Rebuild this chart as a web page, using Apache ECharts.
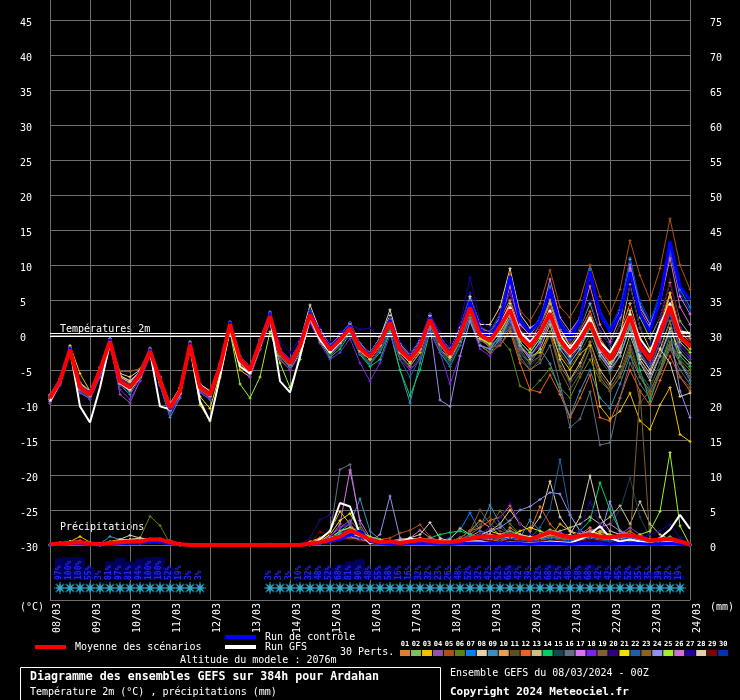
<!DOCTYPE html>
<html><head><meta charset="utf-8">
<script src="https://cdn.jsdelivr.net/npm/echarts@6/dist/echarts.min.js"></script>
<style>html,body{margin:0;padding:0;background:#000;}#c{width:740px;height:700px;}</style>
</head><body><div id="c"></div>
<script>
const dates = ['08/03','09/03','10/03','11/03','12/03','13/03','14/03','15/03','16/03','17/03','18/03','19/03','20/03','21/03','22/03','23/03','24/03'];
const memberColors = ['#e07f30','#80c060','#f0c000','#9050b0','#b05010','#608010','#0080ff','#e8d0a8','#3890c0','#e8a050','#605020','#f06020','#d0c080','#00d060','#204050','#607080','#e070f0','#8020f0','#806030','#300080','#f0e000','#2060a0','#906020','#9090f0','#a0f030','#d070d0','#2000a0','#e0d0b0','#800000','#0030c0'];
const memberLabels = ['01','02','03','04','05','06','07','08','09','10','11','12','13','14','15','16','17','18','19','20','21','22','23','24','25','26','27','28','29','30'];

// 2m temperature (°C), one value every 6 h from 08/03 00Z to 24/03 00Z
const tMean = [-9,-6.6,-2.1,-7.5,-8.5,-5,-0.9,-6.6,-7.5,-5.7,-2.3,-6.4,-10.4,-8,-1.4,-7.5,-8.5,-4.5,1.5,-3.5,-5,-1.1,2.7,-2.5,-4,-1.6,2.9,0,-2.1,-0.7,1,-1.9,-3.1,-1.1,1.8,-2.1,-3.5,-1.6,2.2,-0.9,-2.8,0,3.9,0,-0.8,1.2,3.6,-0.2,-1.6,0.3,3.1,-0.7,-2.6,-0.7,1.7,-1.6,-3.5,-1.1,2.7,-1.6,-3.5,0.3,4.1,-0.2,-1.6];
const tCtrl = [-8.9,-6.4,-1.9,-7.4,-8.3,-4.9,-0.6,-6.5,-7.4,-5.5,-2.1,-6.3,-10.6,-8,-1.2,-7.4,-8.4,-4.3,1.8,-3.3,-4.8,-0.9,3,-2.3,-3.8,-1.3,3.2,0.2,-1.8,-0.4,1.3,-1.7,-2.9,-0.9,2.1,-1.9,-3.3,-1.4,2.5,-0.6,-2.6,0.3,4.8,0.8,-0.3,2,8.4,2,0.5,2,6.5,1.5,-0.5,2,9.1,3,0.5,3,9,3,0.5,5,13.4,7,5];
const tGfs = [-9.5,-6.8,-2,-10.2,-12.5,-7.5,-1.2,-6.8,-7.8,-6,-2.4,-10.2,-10.6,-8.4,-1.6,-9.5,-12.3,-6,1,-4.5,-5.5,-1.5,2.5,-6.6,-8.2,-3,2.5,-0.7,-2.5,-1,0.8,-2,-3.2,-1.2,1.8,-2.2,-3.6,-1.6,2,-1,-3,0,3.5,0,-0.8,1.5,4,0.5,-1,0.5,3.5,0,-2,0,2.5,-1,-2.5,0,3,-0.5,-2.5,1.5,4.6,0.5,0.3];
const t01 = [-8.5,-6.2,-1.8,-7,-8,-4.6,-0.5,-6,-6.8,-5.2,-2,-6,-10,-7.6,-1,-7,-8,-4,1.8,-3,-4.5,-0.6,3.2,-2,-3.5,-1,3.4,0.5,-1.5,0,1.6,-1.4,-2.6,-0.5,2.4,-1.5,-3,-1,2.8,-0.3,-2,0.7,4.6,0.8,0,2.2,5,1,-0.5,1.5,4.6,0.5,-1.5,0.6,3.4,-0.5,-2.5,0.3,4.5,-0.5,-2.5,1.8,6,1,-0.5];
const t02 = [-9.3,-6.8,-2.4,-7.8,-8.8,-5.4,-1.2,-7,-7.9,-6,-2.6,-6.8,-10.8,-8.3,-1.6,-7.8,-8.8,-4.8,1.2,-3.8,-5.3,-1.4,2.4,-2.8,-4.3,-2,2.5,-0.4,-2.5,-1,0.8,-2.3,-3.5,-1.5,1.5,-2.5,-4,-2,2,-1.2,-3,-0.3,3.5,-0.5,-1,1.5,4.5,0.5,-1,1.5,5,0.8,-1,1,4.5,0.5,-1.5,1.5,10.8,2.5,-0.5,2.5,7.5,2,0];
const t03 = [-9.5,-6.5,-1.5,-5.5,-8,-5.5,-1.5,-7,-8,-6,-2.8,-7,-11,-8.5,-2,-10,-12.3,-6,0.5,-5,-6,-2,2,-3.5,-5,-2.5,2,-1,-3,-1.5,0.5,-2.5,-4,-2,1,-3,-4.5,-2.5,1.5,-2,-3.5,-1,3,-1.5,-2.5,-0.5,2.5,-2,-3,-2.5,0.5,-3,-5,-2.7,-1.5,-10.2,-12,-10.9,-8.3,-12.3,-13.5,-10,-7.5,-14.2,-15.2];
const t04 = [-9.8,-7,-2.2,-8,-9.2,-6,-1,-8.5,-9.7,-6.5,-2.5,-7,-11,-8.5,-1.5,-8,-9,-5,1.2,-4,-5.5,-1.5,2.5,-3,-4.5,-2,3,-0.5,-2.8,-1.2,0.8,-2.5,-4,-1.8,1.5,-2.8,-4.5,-2.2,2,-1.5,-3.5,-0.5,3.5,-0.8,-1.5,0.5,3,-1,-2.5,0,3,-1,-3.5,-1.5,2,-2.5,-5,-2,2.5,-2.5,-5,-1,3.5,-2.5,-4];
const t05 = [-8.8,-6.3,-1.8,-7.2,-8.2,-4.8,-0.6,-5.2,-5.2,-4.8,-2,-6.2,-10,-7.8,-1.2,-7.2,-8.2,-4.2,1.8,-3.2,-4.7,-0.8,3,-2.2,-3.6,-1.2,3.3,0.3,-1.8,-0.3,1.4,-1.5,-2.7,-0.7,2.2,-1.7,-3,-1.1,2.7,-0.5,-2.2,0.5,4.5,0.8,0.5,3,8.9,3.5,2,4.5,9.3,4,2.5,5,10,5.5,3,6.5,13.5,8.5,5,9.5,16.6,10,6.5];
const t06 = [-9.2,-6.8,-2,-7.6,-8.6,-5.2,-1,-6.8,-7.8,-5.8,-2.2,-6.5,-10.6,-8.2,-1.5,-7.8,-8.8,-4.6,1.4,-3.6,-5.2,-1.2,2.6,-2.7,-4.2,-1.8,2.7,-0.2,-2.3,-0.9,0.8,-2,-3.3,-1.3,1.6,-2.3,-3.8,-1.8,2,-1.1,-3,-0.2,3.4,-0.5,-1.5,-0.5,-2.1,-7.3,-8,-6.5,-4.8,-7.5,-9,-6,-3.5,-6.5,-8,-6,-2.5,-5.5,-7.5,-4,-1,-3.5,-5];
const t07 = [-8.7,-6.4,-1.9,-7.3,-8.3,-4.8,-0.7,-6.3,-7.2,-5.5,-2.1,-6.2,-10.2,-7.8,-1.2,-7.3,-8.3,-4.3,1.7,-3.3,-4.8,-0.9,2.9,-2.3,-3.8,-1.4,3.1,0.2,-1.9,-0.5,1.2,-1.7,-2.9,-0.9,2,-1.9,-3.3,-1.4,2.4,-0.7,-2.6,0.3,4.5,0.5,0,2.5,8,2,0.5,2.5,7,2,0,2.5,9.5,3,0.5,3.5,11,4.5,1.5,5.5,12.5,6.5,4];
const t08 = [-8.6,-6.2,-2.3,-6.8,-8,-5,-1.3,-5.5,-6,-5,-2.4,-6,-9.8,-7.5,-1.6,-7,-8,-4.4,1.2,-3.5,-4.6,-0.8,2.3,-2.6,-4,-1.5,3.5,0.8,-1.5,-0.2,1.8,-1.2,-2.6,-0.4,2.8,-1.3,-2.8,-0.8,3,-0.2,-2.2,1,5.5,1.5,1.5,4,9.5,3,1,2,6,1,-1.5,-1,3,-2,-4,-2.5,3,-3,-5,-2,2,-4,-6];
const t09 = [-9.5,-7,-2.3,-8.3,-9,-5.5,-1.2,-7.2,-8.5,-6.2,-2.6,-7.2,-11.8,-9,-1.8,-8.2,-9.2,-5,1,-4,-5.6,-1.6,2.2,-3,-4.6,-2.2,2.3,-0.6,-3,-1.5,0.3,-2.8,-4.2,-2.5,0.5,-5,-9.7,-4,1,-2,-4,-1,2.5,-1.5,-2,-0.8,1.5,-2.5,-4,-2,-4.1,-8,-11.6,-8,-5,-9,-10.5,-7,-3,-6,-8,-5,-1.5,-4,-6.5];
const t10 = [-8.9,-6.5,-2,-7.4,-8.4,-4.9,-0.8,-5.8,-6.5,-5.3,-2.2,-6.3,-10.3,-7.9,-1.3,-7.4,-8.4,-4.4,1.6,-3.4,-4.9,-1,2.8,-2.4,-3.9,-1.5,3,0.1,-2,-0.6,1.1,-1.8,-3,-1,1.9,-2,-3.4,-1.5,2.3,-0.8,-2.7,0.1,4,0.1,-0.7,1.3,4,0,-1.2,0.8,4.5,0,-2,0,3,-1,-3,-0.5,4.5,-1,-3,1,5.5,0.5,-1];
const t11 = [-9.1,-6.7,-2.2,-7.6,-8.6,-5.1,-1,-6.7,-7.6,-5.8,-2.4,-6.5,-10.5,-8.1,-1.5,-7.6,-8.6,-4.6,1.4,-3.6,-5.1,-1.2,2.6,-2.6,-4.1,-1.7,2.8,-0.1,-2.2,-0.8,0.9,-2,-3.2,-1.2,1.7,-2.2,-3.6,-1.7,2.1,-1,-2.9,-0.1,3.8,-0.1,-1,0.5,2.5,-1.5,-3,-1,1.5,-2.5,-4.5,-2.5,0,-3.5,-5.5,-3,1,-3.5,-6,-2.5,2,-3,-4.5];
const t12 = [-9.3,-6.9,-2.4,-7.9,-8.9,-5.3,-1.2,-6.9,-7.9,-6,-2.6,-6.8,-10.8,-8.4,-1.7,-7.9,-8.9,-4.9,1.1,-3.9,-5.4,-1.5,2.3,-2.9,-4.4,-2,2.5,-0.4,-2.5,-1.1,0.6,-2.3,-3.5,-1.5,1.4,-2.5,-3.9,-2,1.8,-1.3,-3.2,-0.4,3.5,-0.5,-1.8,-1.5,0.5,-4,-7.8,-8.2,-5.7,-8.5,-11.8,-9,-5.7,-11.8,-12.3,-9,-5,-8,-10,-6.5,-3,-6,-8];
const t13 = [-8.8,-6.4,-2,-7.2,-8.2,-4.7,-0.8,-6,-6.8,-5.4,-2.1,-6.1,-10.1,-7.7,-1.2,-7.2,-8.2,-4.2,1.7,-3.3,-4.8,-0.9,2.9,-2.3,-3.8,-1.4,3.1,0.2,-1.9,-0.5,1.2,-1.7,-2.9,-0.9,2,-1.9,-3.3,-1.4,2.4,-0.7,-2.6,0.2,4.1,0.2,-0.6,0.5,3,-1.5,-3.5,-2,1.5,-3.5,-6.4,-4,-1,-5,-7,-4.5,0,-4,-6.5,-3,1,-2.5,-4];
const t14 = [-9.1,-6.5,-2.3,-7.6,-8.4,-5.1,-1.1,-6.5,-7.4,-5.8,-2.4,-6.5,-10.5,-7.9,-1.6,-7.6,-8.6,-4.4,1.3,-3.6,-5.1,-1.3,2.5,-2.7,-4.3,-2,2.4,-0.8,-3.2,-2,0.2,-2.8,-4.5,-3.5,0.5,-5,-8.7,-5,0.5,-2.5,-4.5,-1.5,2.5,-1.5,-2.5,-0.5,2,-1.5,-3,-1,2,-2,-4,-2,1,-3,-5,-3,1.5,-5,-9.5,-5,0,-3,-4.5];
const t15 = [-9.4,-7,-2.5,-8,-8.9,-5.4,-1.4,-7.2,-8.2,-6.2,-2.8,-6.9,-11,-8.6,-1.8,-8,-9,-5,1,-4,-5.5,-1.7,2,-3.2,-4.7,-2.3,2.1,-0.8,-2.9,-1.5,0.2,-2.7,-3.9,-2,1,-3,-5,-3,1.2,-2,-4,-1.2,2.8,-1.2,-2.2,-1,1.5,-2.5,-4.5,-3,0,-4,-7,-5,-2,-6,-8,-5,-1,-5.5,-7.5,-4,0,-3.5,-6];
const t16 = [-9.2,-6.8,-2.3,-7.8,-8.8,-5.3,-1.1,-6.8,-7.8,-5.9,-2.5,-6.7,-10.7,-8.3,-1.6,-7.7,-8.7,-4.7,1.3,-3.7,-5.3,-1.3,2.5,-2.8,-4.3,-1.9,2.6,-0.3,-2.4,-1,0.7,-2.2,-3.4,-1.4,1.5,-2.4,-3.8,-1.9,1.9,-1.2,-3.1,-0.3,3.5,-0.5,-1.5,-0.5,1,-3,-5,-4,-1.5,-7,-13.2,-12,-8.1,-15.7,-15.4,-9,-4,-7,-9,-5.5,-2,-5,-7];
const t17 = [-8.9,-6.5,-2,-7.3,-8.3,-4.9,-0.8,-6.4,-7.3,-5.5,-2.1,-6.2,-10.2,-7.8,-1.2,-7.3,-8.3,-4.3,1.7,-3.3,-4.8,-0.8,3,-2.2,-3.7,-1.3,3.2,0.3,-1.8,-0.4,1.3,-1.6,-2.8,-0.8,2.1,-1.8,-3.2,-1.3,2.5,-0.6,-2.5,0.4,4.4,0.6,0,2,7,1.5,0,2,8,2.5,0.5,2.5,8.5,3,0.5,3.5,10,4,1.5,5,12,5.5,3];
const t18 = [-9.6,-7.2,-2.6,-8.2,-9.2,-5.8,-1.5,-7.8,-9.2,-6.6,-3,-7.2,-11.2,-8.8,-2,-8.2,-9.2,-5.2,0.8,-4.2,-6,-2,1.8,-3.5,-5,-2.8,1.8,-1.2,-3.5,-2.5,-0.5,-4,-6.6,-4,0,-3.5,-5,-3.5,0.5,-2.5,-7,-3,2,-2,-3,-1,2,-2,-3,-1.5,2,-1.5,-3.5,-1.5,2,-2,-4.5,-2,2.5,-2,-4,-0.5,3,-1.5,-3];
const t19 = [-8.7,-6.3,-1.9,-7.2,-8.2,-4.8,-0.6,-6.2,-7,-5.4,-2,-6.1,-10.1,-7.7,-1.1,-7.2,-8.2,-4.2,1.8,-3.2,-4.7,-0.8,3,-2.2,-3.7,-1.3,3.2,0.3,-1.8,-0.4,1.3,-1.6,-2.8,-0.8,2.1,-1.8,-3.2,-1.3,2.5,-0.6,-2.5,0.3,4.2,0.3,-0.5,0.5,2.5,-2,-4,-3,0,-5,-7.8,-5.5,-2,-6,-8,-6,-2,-9.7,-8,-5,-1,-4,-5.5];
const t20 = [-9,-6.6,-2.2,-7.4,-8.4,-5,-1,-6.5,-7.4,-5.6,-2.3,-6.4,-10.4,-8,-1.4,-7.4,-8.4,-4.5,1.5,-3.5,-5,-1.1,2.6,-2.5,-4,-1.7,2.9,0,-2.2,-0.8,1,-2,-3.2,-1.2,2,-2.2,-3.6,-1.7,2.2,-1,-2.9,0,4.2,0.2,-0.6,1.5,4.5,0.5,-1,1,4,0,-2,0,2.5,-1,-3,0,4,-1,-2.5,1,5,-1,-3.5];
const t21 = [-9.2,-6.6,-1.6,-7.7,-8.6,-5.2,-1.3,-6.9,-7.8,-5.9,-2.6,-6.7,-10.8,-8.3,-1.9,-8.8,-10.5,-5.5,0.8,-4,-5.5,-1.5,2.3,-3,-4.5,-2,2.7,-0.3,-2.5,-1.2,0.7,-2.3,-3.5,-1.5,1.6,-2.5,-4,-2,2,-1.3,-3.2,-0.3,3.6,-0.5,-1.3,1,3.8,-0.5,-2,0,3.5,-1,-2.5,-0.5,2.5,-1.5,-3,0,7.2,1,-2,0.5,6,-0.5,-2];
const t22 = [-8.9,-6.5,-2.1,-7.5,-8.6,-5,-0.9,-6.8,-7.8,-5.9,-2.4,-6.6,-11,-8.2,-1.5,-7.6,-8.6,-4.6,1.4,-3.6,-5.1,-1.2,2.4,-2.9,-4.5,-2.1,2.3,-0.7,-2.8,-1.4,0.3,-2.7,-4.2,-2.2,0.9,-3.5,-6,-3.2,1.3,-2,-4.5,-1.5,2.8,-1.5,-2,0,2.5,-1,-2.5,-0.5,2.5,-1.5,-3.5,-1.5,1.5,-2.5,-4.5,-2,2,-2.5,-4.5,-1,3,-2,-3.5];
const t23 = [-9.1,-6.7,-2.1,-7.6,-8.6,-5.1,-0.9,-6.6,-7.6,-5.8,-2.3,-6.5,-10.5,-8.1,-1.4,-7.6,-8.6,-4.6,1.4,-3.6,-5.1,-1.2,2.6,-2.6,-4.1,-1.7,2.8,-0.1,-2.2,-0.8,0.9,-2,-3.2,-1.2,1.7,-2.2,-3.6,-1.7,2.1,-1,-2.9,-0.4,3,-1.5,-2.5,-1.5,1,-3.5,-5,-3.5,0.5,-4.5,-6.5,-4.5,-1,-5.5,-7.5,-5.5,-1.5,-6,-8.5,-5.5,-1.5,-6,-7.5];
const t24 = [-9,-6.5,-2.1,-7.7,-8.7,-5.2,-1.1,-7,-8,-6,-2.5,-6.7,-10.8,-8.3,-1.7,-7.8,-8.8,-4.8,1.2,-3.8,-5.3,-1.4,2.4,-2.7,-4.2,-1.9,2.6,-0.3,-2.4,-1,0.7,-2.2,-3.4,-1.4,1.5,-2.4,-3.8,-1.9,1.2,-9.3,-10.2,-3,2,-1.5,-2,0,2.5,-1.5,-3,-1,2,-2,-4,-2,1.5,-3,-5,-3,1,-4,-6,-3,0.5,-8,-11.8];
const t25 = [-8.8,-6.4,-2,-7.3,-8.3,-4.9,-0.8,-6.4,-7.3,-5.6,-2.2,-6.3,-10.3,-7.9,-1.3,-7.4,-8.4,-4.6,0.5,-7,-9,-6,0.5,-4,-7.5,-3.5,2.4,-0.4,-2.5,-1.1,0.6,-2.2,-3.4,-1.4,1.5,-2.4,-3.8,-1.9,1.9,-1.2,-3.1,-0.3,3.5,-0.5,-1.2,0.5,3,-1,-2.5,-0.5,2.5,-1.5,-3,-1,2,-2,-4,-1.5,3.5,-1.5,-3.5,0,4,-1,-2.5];
const t26 = [-8.9,-6.4,-2,-7.4,-8.4,-4.9,-0.8,-6.5,-7.4,-5.6,-2.2,-6.3,-10.3,-7.9,-1.3,-7.4,-8.4,-4.4,1.6,-3.4,-4.9,-0.9,2.9,-2.3,-3.8,-1.4,3.1,0.2,-1.9,-0.5,1.2,-1.7,-2.9,-0.9,2,-1.9,-3.3,-1.4,2.4,-0.7,-2.6,0.5,4.8,1,0.5,2.5,6,1.5,0,2,6.5,1.5,-0.5,2,7,1.5,-1,2.5,9.5,3.5,1,4.5,11,4,1.5];
const t27 = [-8.8,-6.3,-1.9,-7.3,-8.3,-4.8,-0.7,-6.4,-7.3,-5.5,-2.1,-6.2,-10.2,-7.8,-1.2,-7.3,-8.3,-4.3,1.8,-3.2,-4.7,-0.7,3.2,-1,-2.5,-0.5,3.5,1,-1,0.5,1.5,0.8,1,-0.5,2.5,-1,-2.5,-0.5,3,0.5,-1.5,1.5,8.2,2,1,2,6,1,-0.5,1.5,5.5,1,-1,1,5,0.5,-1.5,1.5,7,1,-1.5,2.5,8,1.5,-1];
const t28 = [-8.7,-6.2,-1.8,-7.1,-8.1,-4.6,-0.5,-5.8,-6.6,-5.2,-1.9,-6,-10,-7.6,-1,-7.1,-8.1,-4.1,1.9,-3.1,-4.6,-0.6,3.3,-2,-3.5,-1,4.3,0.6,-1.5,-0.1,1.6,-1.3,-2.5,-0.4,3.6,-1.4,-2.9,-1,2.8,-0.3,-2.2,0.6,4.5,0.5,0,1.5,4.5,0.5,-1,0.5,4,-1,-3,-1.5,2.5,-2.5,-4.5,-2,2,-3.5,-5.5,-2,-4,-8.8,-8.3];
const t29 = [-9,-6.6,-2.1,-7.5,-8.5,-5,-0.9,-6.7,-7.6,-5.7,-2.3,-6.4,-10.4,-8,-1.4,-7.5,-8.5,-4.5,1.5,-3.5,-5,-1.1,2.7,-2.5,-4,-1.6,2.9,0,-2.1,-0.7,1,-1.9,-3.1,-1.1,1.8,-2.1,-3.5,-1.6,2.2,-0.9,-2.8,0,3.9,0,-0.8,1.5,4,0.5,-1,1,4,0,-2,0,3,-1,-3,0,4,-1,-3,1.5,7.7,1,-1];
const t30 = [-8.8,-6.3,-1.8,-7.2,-8.2,-4.7,-0.6,-6.2,-7.1,-5.4,-2,-6.1,-10.1,-7.7,-1.1,-7.2,-8.2,-4.2,1.9,-3.1,-4.6,-0.7,3.2,-2,-3.5,-1.1,3.5,0.6,-1.5,-0.1,1.8,-1.3,-2.5,-0.5,2.5,-1.4,-2.8,-0.9,3,-0.2,-2.1,0.8,6,1.2,0.5,3,7.5,2.5,0.5,2.5,6.5,2,0,2.5,8.5,3.5,1,4,10.5,5,2,6,12,6,3.5];

// precipitation (mm per 6 h)
const rMean = [0.1,0.2,0.3,0.4,0.2,0.1,0.3,0.4,0.5,0.5,0.8,0.8,0.4,0.1,0,0,0,0,0,0,0,0,0,0,0,0,0.2,0.4,0.75,1.2,2.1,1.5,0.75,0.4,0.5,0.3,0.5,0.7,0.6,0.4,0.4,0.6,0.9,1.2,1.2,1.2,1.5,1.1,0.8,1.3,1.8,1.4,1.1,1.3,1.5,1.2,1.1,1.3,1.4,1.1,0.6,0.8,0.9,0.5,0.1];
const rCtrl = [0,0.1,0.2,0.2,0.1,0,0.1,0.2,0.3,0.3,0.4,0.4,0.2,0,0,0,0,0,0,0,0,0,0,0,0,0,0.1,0.3,0.5,0.8,1.5,2,0.5,0.2,0.1,0.1,0.2,0.2,0.2,0.1,0.1,0.2,0.3,0.3,0.2,0.2,0.3,0.2,0.1,0.2,0.3,0.2,0.1,0.2,0.3,0.2,0.1,0.2,0.3,0.2,0.1,0.1,0.2,0.1,0];
const rGfs = [0,0.2,0.3,0.3,0.1,0,0.2,0.3,0.4,0.3,0.5,0.5,0.3,0,0,0,0,0,0,0,0,0,0,0,0,0,0.2,0.8,2,6,5.5,1.5,0.3,0.2,0.1,0.2,1,0.3,0.2,0.1,0.2,0.3,0.5,0.5,0.3,0.2,0.4,0.3,0.2,0.3,0.5,0.4,0.3,0.8,1.5,2.7,1,0.5,0.8,0.5,0.3,1,2.2,4.3,2.3];
const r01 = [0,0.3,0.4,0.5,0.2,0,0.2,0.5,0.6,0.4,0.8,0.9,0.6,0.1,0,0,0,0,0,0,0,0,0,0,0,0,0.1,0.3,0.8,1.5,1.8,1,0.3,0.2,0.5,0.8,0.6,0.4,0.2,0.3,0.5,0.8,1.2,2,1.5,1,2.5,1.5,0.5,1,2,1.2,0.8,1.5,2.5,1,0.5,1.2,2,1,0.5,0.8,0.5,0.2,0];
const r02 = [0,0.2,0.3,0.3,0.1,0,0.3,0.4,0.3,0.5,0.6,0.5,0.4,0.2,0,0,0,0,0,0,0,0,0.1,0,0,0,0.2,0.5,0.8,2,2.5,1.5,0.6,0.3,0.2,0.4,0.8,0.5,0.3,0.2,0.3,0.5,0.8,0.6,1,1.5,1.2,0.8,0.5,1.5,2.2,1.8,1,0.8,1.2,1.8,1.5,1.2,0.8,0.5,0.3,0.8,1.2,0.5,0.1];
const r03 = [0,0.2,0.5,1.2,0.4,0,0.3,0.5,0.4,0.3,0.5,0.6,0.3,0,0,0,0,0,0,0,0,0,0,0,0,0,0.5,1,2,4.8,3,1,0.3,0.2,0.3,0.5,0.4,0.3,0.4,0.7,0.5,0.3,0.6,1,0.8,0.5,1,1.5,1,0.5,1,3,2,1,1.5,2,1.5,1,0.5,0.8,0.5,0.3,0.5,0.2,0];
const r04 = [0,0.1,0.2,0.2,0.1,0,0.2,0.3,0.4,0.3,0.4,0.4,0.2,0,0,0,0,0,0,0,0,0,0,0,0,0,0.1,0.5,1.2,2.5,3.5,2,1,0.5,0.3,0.2,0.3,0.5,0.5,0.3,0.2,0.3,0.5,0.6,1,1.5,2,1,0.5,0.5,1.5,1,0.8,1.2,1.8,1,0.8,1.5,2.5,1.5,0.8,0.5,0.4,0.3,0];
const r05 = [0,0.1,0.3,0.4,0.2,0,0.2,0.6,0.8,0.7,0.9,0.8,0.6,0.1,0,0,0,0,0,0,0,0,0,0,0,0,0,0.2,0.5,1,1.2,0.8,0.6,0.8,1,1.7,2.1,2.9,1.2,0.5,0.3,0.5,1,1.5,1.2,0.8,1,0.5,0.3,0.8,1.5,1,0.5,0.8,1.5,1,0.8,1.2,1.5,1,0.6,0.5,0.8,0.3,0];
const r06 = [0,0.1,0.2,0.3,0.3,0.2,0.4,0.5,0.6,1,4.1,2.8,0.2,0,0,0,0,0,0,0,0,0,0,0,0,0,0.1,0.3,0.8,1.5,2,2.5,1,0.5,0.3,0.2,0.3,0.6,0.5,0.2,0.2,0.4,0.8,1.5,2.5,4.9,3,1.5,0.8,0.8,1.2,1,0.5,0.8,1,0.8,0.5,0.8,1,0.6,0.3,0.5,0.4,0.2,0];
const r07 = [0,0.2,0.2,0.3,0.1,0,0.2,0.3,0.3,0.3,0.5,0.6,0.4,0.1,0,0,0,0,0,0,0,0,0,0,0,0,0.2,0.3,0.8,1.8,2.5,1.2,0.5,0.3,0.2,0.3,0.5,0.5,0.3,0.5,1,2.1,4.6,2,1.2,1,1.5,1,0.5,1,1.5,1.2,1,1.5,2,1.2,1,1.5,1.2,0.8,0.5,0.8,0.6,0.3,0.1];
const r08 = [0,0.3,0.5,0.6,0.3,0,0.2,0.8,1.4,1,0.7,0.6,0.3,0,0,0,0,0,0,0,0,0,0,0,0,0,0.1,0.3,0.6,1.5,2,1.3,0.5,0.4,0.3,0.5,0.8,1,0.8,0.5,0.3,0.5,1,1.5,2,3,5,3,2,4,9.1,4,2,1.5,1.5,1,0.8,1,1.2,0.8,0.5,0.5,0.8,0.4,0];
const r09 = [0,0.2,0.3,0.4,0.3,0.2,1.2,0.8,0.5,0.4,0.5,0.6,0.4,0.1,0,0,0,0,0,0,0,0,0,0,0,0,0.2,0.5,1,2,3,6.6,2,0.8,0.3,0.2,0.3,0.5,0.6,0.4,0.3,0.8,1.5,2.5,5.7,3,1.5,1,3.6,2,1,1,0.8,1,1.2,0.8,0.5,1,0.8,0.5,0.3,0.4,0.5,0.2,0];
const r10 = [0,0.2,0.4,0.4,0.2,0,0.2,0.4,0.4,0.5,0.6,0.7,0.5,0.1,0,0,0,0,0,0,0,0,0,0,0,0,0.1,0.3,0.7,1.2,1.5,0.8,0.5,0.4,0.6,0.8,1,0.6,0.5,0.3,0.4,1,2,3.5,2.5,1.5,2,1.5,1,0.8,1.2,1.8,1,0.8,1,1.5,1.2,0.8,1,1.2,0.8,0.5,0.3,0.2,0];
const r11 = [0,0.1,0.2,0.3,0.2,0,0.1,0.3,0.4,0.5,0.8,0.9,0.7,0.2,0,0,0,0,0,0,0,0,0,0,0,0,0,0.2,0.5,1,1.2,0.8,0.5,0.3,0.2,0.3,0.5,0.6,0.4,0.3,0.5,1,2,3,4,2.5,1.5,1,0.8,1,1.5,1,0.8,1,1.5,1.2,1,0.8,1,0.8,0.5,0.6,0.4,0.2,0];
const r12 = [0,0.2,0.3,0.3,0.1,0,0.2,0.4,0.5,0.4,0.5,0.5,0.3,0,0,0,0,0,0,0,0,0,0,0,0,0,0.1,0.2,0.6,1.2,1.6,1,0.6,0.4,0.3,0.4,0.6,0.8,0.5,0.3,0.5,1,2,2.5,3.5,4,5.6,3,2,5.5,3,1.5,1,1.2,1.5,1,0.8,1.2,1.5,1,0.5,0.4,0.3,0.2,0];
const r13 = [0,0.2,0.3,0.5,0.3,0,0.3,0.6,0.8,0.6,0.7,0.7,0.4,0.1,0,0,0,0,0,0,0,0,0,0,0,0,0.1,0.3,0.5,1,1.3,0.9,0.5,0.3,0.3,0.5,0.5,0.6,0.6,0.5,0.8,2.4,1.5,1,1.5,1.2,1,0.8,0.6,1,1.5,2,2.5,3,4,3,4,5.6,3,6.2,3,1.5,0.8,0.3,0];
const r14 = [0,0.1,0.2,0.2,0.1,0,0.2,0.3,0.3,0.3,0.4,0.5,0.3,0,0,0,0,0,0,0,0,0,0,0,0,0,0.1,0.3,0.8,1.6,2.2,1.3,0.6,0.3,0.2,0.3,0.5,0.8,1,1.5,1.8,2,1.5,1.2,1,1.5,2,1.5,1,1.2,1.5,1.2,1,2,3.5,8.9,5,2,1,0.8,0.5,0.6,0.4,0.2,0];
const r15 = [0,0.1,0.2,0.3,0.2,0,0.2,0.3,0.4,0.4,0.5,0.6,0.4,0,0,0,0,0,0,0,0,0,0,0,0,0,0.1,0.2,0.5,1,1.4,1,0.5,0.3,0.2,0.3,0.4,0.4,0.3,0.2,0.3,0.5,0.8,1,1.2,1,1.5,1,0.8,1,1.2,1,0.8,1.5,2,2.5,3,5,9.6,4,1,0.5,0.3,0.2,0];
const r16 = [0,0.1,0.2,0.2,0.1,0,0.1,0.3,0.3,0.3,0.4,0.4,0.3,0,0,0,0,0,0,0,0,0,0,0,0,0,0.1,0.3,1.5,10.8,11.5,3,0.5,0.3,0.2,0.3,0.3,0.4,0.3,0.2,0.3,0.5,0.8,1,1,0.8,1,0.8,0.5,0.8,1,0.8,0.5,0.8,1,0.8,0.5,0.8,1,0.6,0.4,0.4,0.3,0.2,0];
const r17 = [0,0.1,0.2,0.2,0.1,0,0.2,0.3,0.4,0.4,0.5,0.5,0.3,0,0,0,0,0,0,0,0,0,0,0,0,0,0.2,0.5,1,3,10.7,3.5,1,0.5,0.3,0.5,0.8,0.6,0.4,0.3,0.4,0.6,1,1.5,1.2,1,1.5,1.2,0.8,1,1.5,1.2,1,1.5,2,1.5,1.2,1,0.8,0.6,0.5,0.4,0.3,0.2,0];
const r18 = [0,0.1,0.2,0.2,0.1,0,0.1,0.2,0.3,0.3,0.4,0.4,0.2,0,0,0,0,0,0,0,0,0,0,0,0,0,0.1,0.5,1.2,2.5,3,1.5,0.8,0.5,0.4,0.3,0.4,0.6,0.5,0.4,0.5,0.8,1.2,1.5,1,0.8,1.5,1,0.8,1.2,1.5,1.8,1.2,1,1.5,1.2,1,0.8,1,0.8,0.5,0.4,0.3,0.2,0];
const r19 = [0,0.2,0.4,0.5,0.3,0,0.2,0.5,0.6,0.8,0.9,0.9,0.5,0.1,0,0,0,0,0,0,0,0,0,0,0,0,0,0.2,0.5,1,1.5,1,0.6,0.4,0.3,0.4,0.5,0.6,0.4,0.3,0.5,1,2,5,3,2,1.5,1,0.8,1,1.2,1,0.8,1,1.2,1,0.8,1,0.5,22,0.5,0.4,0.3,0.2,0];
const r20 = [0,0.1,0.2,0.2,0.1,0,0.1,0.2,0.3,0.3,0.4,0.4,0.2,0,0,0,0,0,0,0,0,0,0,0,0,0,1,3.6,4.3,2,1.5,1,0.6,0.4,0.3,0.3,0.4,0.5,0.4,0.3,0.3,0.5,0.8,1,1.2,1,1.5,1.2,1,1.2,1.5,1.2,1,1.2,1.5,1.2,1,0.8,1,0.8,0.5,0.5,0.3,0.2,0];
const r21 = [0,0.2,0.3,0.5,0.3,0.2,0.5,0.8,0.7,0.6,0.7,0.7,0.4,0.1,0,0,0,0,0,0,0,0,0,0,0,0,0.2,0.5,1.5,3.5,4.5,2,0.8,0.5,0.4,0.5,0.6,0.5,0.7,0.7,0.5,0.6,1,1.5,2,1.5,1.2,2,2.5,2,1.5,1.2,1,1.5,2,1.5,1.2,1,0.8,0.6,0.5,0.4,0.3,0.2,0];
const r22 = [0,0.1,0.2,0.2,0.1,0,0.2,0.3,0.3,0.4,0.4,0.5,0.3,0,0,0,0,0,0,0,0,0,0,0,0,0,0.1,0.3,0.6,1.2,1.8,1.2,0.6,0.4,0.3,0.3,0.4,0.5,0.4,0.3,0.4,0.6,1,1.5,1.2,1,1.5,1.2,1,2.5,5,12.2,4.3,2,1.5,1.2,1,0.8,1,0.8,0.5,0.4,0.3,0.2,0];
const r23 = [0,0.1,0.3,0.3,0.2,0,0.2,0.4,0.5,0.5,0.7,0.7,0.4,0.1,0,0,0,0,0,0,0,0,0,0,0,0,0,0.2,0.4,0.8,1,0.8,0.5,0.3,0.2,0.3,0.4,0.5,0.4,0.3,0.4,0.8,1.2,1.5,1.2,1,1.2,1,0.8,1,1.2,1,0.8,1.2,1.5,1.2,1,1.5,2,1,0.5,0.4,0.3,0.2,0];
const r24 = [0,0.1,0.2,0.2,0.1,0,0.1,0.2,0.3,0.3,0.4,0.4,0.2,0,0,0,0,0,0,0,0,0,0,0,0,0,0.1,0.3,0.5,1,1.2,0.8,0.5,1.5,7,1,0.5,0.4,0.3,0.3,0.4,0.6,1,1.5,2,2.5,3.5,5,5.5,6.5,7.5,7.3,4.3,2,1.5,1.2,6.2,2,1,0.8,0.5,0.5,0.3,0.2,0];
const r25 = [0,0.1,0.2,0.3,0.2,0,0.2,0.3,0.4,0.4,0.5,0.6,0.4,0,0,0,0,0,0,0,0,0,0,0,0,0,0.2,0.5,1,2,2.5,1.8,1.2,0.8,0.5,0.4,0.5,0.5,0.4,0.3,0.4,0.6,1,1.2,1,0.8,1,0.8,0.6,0.8,1,0.8,0.6,0.8,1,0.8,0.6,0.8,1,1.5,2,4.8,13.2,2.7,0];
const r26 = [0,0.2,0.3,0.3,0.2,0,0.2,0.4,0.5,0.5,0.6,0.6,0.4,0,0,0,0,0,0,0,0,0,0,0,0,0,0.1,0.3,0.6,1.2,1.8,1.2,0.8,0.6,0.5,0.6,1,2.1,1,0.5,0.4,0.6,1,1.2,1,1.2,1.5,1.2,1,1.5,2,1.5,1,1.5,2,2.5,3,2,1.5,1,0.6,0.5,0.4,0.2,0];
const r27 = [0,0.1,0.2,0.2,0.1,0,0.1,0.2,0.3,0.3,0.4,0.4,0.2,0,0,0,0,0,0,0,0,0,0,0,0,0,0.1,0.3,0.6,1,1.3,1,0.6,0.4,0.3,0.3,0.4,0.5,0.4,0.3,0.4,0.6,1,1.5,2.5,4,6,3,1.5,1.2,1.5,1.2,1,2,6.2,3,2,1.5,1.2,1,1.5,2,3,1,0];
const r28 = [0,0.3,0.5,0.5,0.3,0,0.2,0.6,0.8,1,0.8,0.6,0.4,0.1,0,0,0,0,0,0,0,0,0,0,0,0,0.1,0.3,0.6,1.2,1.6,1.2,0.8,0.5,0.4,0.6,1,1.5,3.2,1,0.5,0.8,1,1.2,1.5,1.2,1,1.5,1.2,1,1.5,1.2,1.5,4,9.9,4,2,1.5,1.2,1,0.8,0.6,0.5,0.3,0];
const r29 = [0,0.1,0.2,0.3,0.2,0,0.2,0.3,0.4,0.4,0.5,0.6,0.4,0,0,0,0,0,0,0,0,0,0,0,0,0,0.2,1.9,1.5,1,0.8,0.6,0.4,0.3,0.2,0.2,0.3,0.4,0.3,0.2,0.2,0.4,0.6,0.8,0.6,0.5,0.8,0.6,0.5,0.6,0.8,0.6,0.5,0.6,0.8,0.6,0.5,0.6,0.8,0.5,0.3,0.3,0.2,0.1,0];
const r30 = [0,0.1,0.2,0.2,0.1,0,0.1,0.2,0.3,0.3,0.4,0.4,0.2,0,0,0,0,0,0,0,0,0,0,0,0,0,0.1,0.3,0.5,1,1.5,1,0.5,0.3,0.2,0.2,0.3,0.4,0.3,0.2,0.3,0.5,0.8,1,1,0.8,1,0.8,0.6,0.8,1,0.8,0.6,0.8,1,0.8,0.6,0.8,1,0.6,0.4,0.4,0.3,0.2,0];

// percentage of members with (snow) precipitation per 6 h step; null = no label
const snowPct = [null,97,100,100,55,3,81,97,81,94,100,100,52,19,3,3,null,null,null,null,null,null,3,3,3,10,32,48,52,68,81,90,48,55,58,16,16,32,32,23,26,48,52,32,42,52,65,42,39,52,68,52,48,58,68,42,42,45,52,35,35,39,32,19,null];

const tMembers = [t01,t02,t03,t04,t05,t06,t07,t08,t09,t10,t11,t12,t13,t14,t15,t16,t17,t18,t19,t20,t21,t22,t23,t24,t25,t26,t27,t28,t29,t30];
const rMembers = [r01,r02,r03,r04,r05,r06,r07,r08,r09,r10,r11,r12,r13,r14,r15,r16,r17,r18,r19,r20,r21,r22,r23,r24,r25,r26,r27,r28,r29,r30];

const MONO = '"DejaVu Sans Mono", "Liberation Mono", monospace';
const GRID = '#6e6e6e';
const plus = 'path://M1,0H2V1H3V2H2V3H1V2H0V1H1Z';
const flake = 'path://M0,4.3H10V5.7H0Z M4.3,0H5.7V10H4.3Z M1,2L2,1L9,8L8,9Z M8,1L9,2L2,9L1,8Z';
const xy = arr => arr.map((v, i) => [i, v]);

const series = [];
tMembers.forEach((arr, k) => {
  const s = {type:'line', xAxisIndex:0, yAxisIndex:0, data:xy(arr), symbol:plus, symbolSize:3,
    lineStyle:{width:1, color:memberColors[k]}, itemStyle:{color:memberColors[k]}, silent:true, z:2};
  if (k === 0) {
    s.markLine = {silent:true, symbol:'none', label:{show:false}, animation:false,
      lineStyle:{color:'#ffffff', width:1, type:'solid'}, data:[{yAxis:0.25},{yAxis:-0.2}]};
  }
  series.push(s);
});
series.push({type:'line', xAxisIndex:0, yAxisIndex:0, data:xy(tGfs), symbol:'none', lineStyle:{width:2, color:'#ffffff'}, silent:true, z:3});
series.push({type:'line', xAxisIndex:0, yAxisIndex:0, data:xy(tCtrl), symbol:'none', lineStyle:{width:3, color:'#0000ff'}, silent:true, z:4});
series.push({type:'line', xAxisIndex:0, yAxisIndex:0, data:xy(tMean), symbol:'none', lineStyle:{width:4, color:'#ff0000'}, silent:true, z:5});
rMembers.forEach((arr, k) => {
  series.push({type:'line', xAxisIndex:0, yAxisIndex:1, data:xy(arr), symbol:plus, symbolSize:3,
    lineStyle:{width:1, color:memberColors[k]}, itemStyle:{color:memberColors[k]}, silent:true, z:2});
});
series.push({type:'line', xAxisIndex:0, yAxisIndex:1, data:xy(rGfs), symbol:'none', lineStyle:{width:2, color:'#ffffff'}, silent:true, z:3});
series.push({type:'line', xAxisIndex:0, yAxisIndex:1, data:xy(rCtrl), symbol:'none', lineStyle:{width:3, color:'#0000ff'}, silent:true, z:4});
series.push({type:'line', xAxisIndex:0, yAxisIndex:1, data:xy(rMean), symbol:'none', lineStyle:{width:4, color:'#ff0000'}, silent:true, z:5});

const pctData = [];
snowPct.forEach((v, i) => { if (v !== null) pctData.push([i, v]); });
series.push({type:'bar', xAxisIndex:2, yAxisIndex:3, data:pctData, barWidth:10, itemStyle:{color:'#000058'}, silent:true, z:1});
series.push({type:'custom', xAxisIndex:2, yAxisIndex:3, data:pctData, silent:true, z:3,
  renderItem: (params, api) => {
    const p = api.coord([api.value(0), 0]);
    return {type:'text', x:p[0]-1, y:p[1], rotation:Math.PI/2,
      style:{text:api.value(1)+'%', fill:'#2424ff', font:'bold 8px ' + MONO, textAlign:'left', textVerticalAlign:'middle'}};
  }});
series.push({type:'scatter', xAxisIndex:3, yAxisIndex:4, data:pctData.map(d => [d[0], 0.5]), symbol:flake, symbolSize:12,
  itemStyle:{color:'#1c7896'}, silent:true, z:3});
series.push({type:'scatter', xAxisIndex:3, yAxisIndex:4, data:pctData.map(d => [d[0], 0.5]), symbol:flake, symbolSize:8,
  itemStyle:{color:'#3cc4e4'}, silent:true, z:4});

const graphic = [];
const txt = (text, x, y, font, fill, align) => ({type:'text', silent:true, style:{text, x, y, font, fill:fill||'#ffffff', textAlign:align||'left', textVerticalAlign:'middle'}});
graphic.push(txt('Températures 2m', 60, 329, '10px ' + MONO));
graphic.push(txt('Précipitations', 60, 527, '10px ' + MONO));
graphic.push(txt('(°C)', 20, 607, '10px ' + MONO));
graphic.push(txt('(mm)', 710, 607, '10px ' + MONO));
graphic.push({type:'line', silent:true, shape:{x1:35, y1:647, x2:66, y2:647}, style:{stroke:'#ff0000', lineWidth:4}});
graphic.push(txt('Moyenne des scénarios', 75, 647, '10px ' + MONO));
graphic.push({type:'line', silent:true, shape:{x1:225, y1:637, x2:256, y2:637}, style:{stroke:'#0000ff', lineWidth:4}});
graphic.push(txt('Run de contrôle', 265, 637, '10px ' + MONO));
graphic.push({type:'line', silent:true, shape:{x1:225, y1:647, x2:256, y2:647}, style:{stroke:'#ffffff', lineWidth:4}});
graphic.push(txt('Run GFS', 265, 647, '10px ' + MONO));
graphic.push(txt('30 Perts.', 340, 652, '10px ' + MONO));
graphic.push(txt('Altitude du modele : 2076m', 180, 660, '10px ' + MONO));
memberColors.forEach((c, k) => {
  const x = 400 + k * 10.97;
  graphic.push({type:'rect', silent:true, shape:{x:x, y:650, width:10, height:6}, style:{fill:c}});
  graphic.push(txt(memberLabels[k], x + 5, 644, 'bold 7px ' + MONO, '#ffffff', 'center'));
});
graphic.push({type:'rect', silent:true, shape:{x:20.5, y:667.5, width:420, height:40}, style:{fill:'none', stroke:'#ffffff', lineWidth:1}});
graphic.push(txt('Diagramme des ensembles GEFS sur 384h pour Ardahan', 30, 677, 'bold 11.6px ' + MONO));
graphic.push(txt('Température 2m (°C) , précipitations (mm)', 30, 692, '10px ' + MONO));
graphic.push(txt('Ensemble GEFS du 08/03/2024 - 00Z', 450, 673, '10px ' + MONO));
graphic.push(txt('Copyright 2024 Meteociel.fr', 450, 692, 'bold 11px ' + MONO));

const option = {
  backgroundColor:'#000000',
  animation:false,
  grid:[
    {left:50, right:50, top:20, bottom:155},
    {left:50, right:50, top:0, bottom:100},
    {left:50, right:50, top:557, bottom:120},
    {left:50, right:50, top:583, bottom:107}
  ],
  xAxis:[
    {gridIndex:0, type:'value', min:0, max:64, show:false},
    {gridIndex:1, type:'value', min:0, max:64, interval:4,
      axisLine:{show:true, lineStyle:{color:GRID, width:1}}, axisTick:{show:false},
      splitLine:{show:true, lineStyle:{color:GRID, width:1}},
      axisLabel:{rotate:90, margin:3, color:'#ffffff', fontFamily:'DejaVu Sans Mono', fontSize:10,
        verticalAlign:'top', lineHeight:14, formatter:v => dates[Math.round(v/4)]}},
    {gridIndex:2, type:'value', min:0, max:64, show:false},
    {gridIndex:3, type:'value', min:0, max:64, show:false}
  ],
  yAxis:[
    {gridIndex:0, type:'value', position:'left', min:-30, max:45, interval:5,
      axisLine:{show:false}, axisTick:{show:false},
      splitLine:{show:true, lineStyle:{color:GRID, width:1}},
      axisLabel:{color:'#ffffff', fontFamily:'DejaVu Sans Mono', fontSize:10, align:'left', margin:30, verticalAlign:'top', lineHeight:6}},
    {gridIndex:0, type:'value', position:'right', min:0, max:75, interval:5,
      axisLine:{show:false}, axisTick:{show:false}, splitLine:{show:false},
      axisLabel:{color:'#ffffff', fontFamily:'DejaVu Sans Mono', fontSize:10, align:'left', margin:20, verticalAlign:'top', lineHeight:6}},
    {gridIndex:1, type:'value', min:0, max:1, show:false, splitLine:{show:false}},
    {gridIndex:2, type:'value', min:0, max:100, show:false, splitLine:{show:false}},
    {gridIndex:3, type:'value', min:0, max:1, show:false, splitLine:{show:false}}
  ],
  series,
  graphic
};
const chart = echarts.init(document.getElementById('c'), null, {renderer:'canvas'});
chart.setOption(option);
</script></body></html>
